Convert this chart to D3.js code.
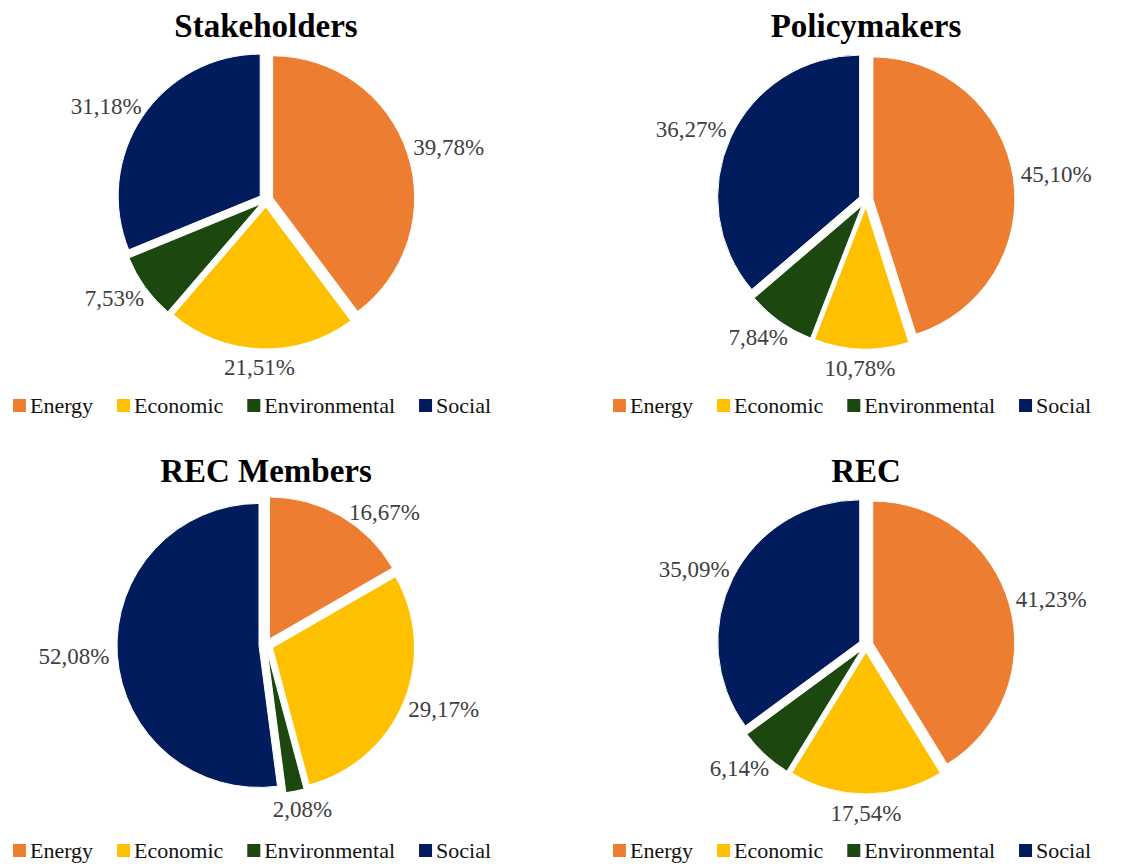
<!DOCTYPE html>
<html lang="en">

<head>
  <meta charset="UTF-8" />
  <title>Pie charts</title>
  <script src="https://d3js.org/d3.v7.min.js"></script>
  <style>
    * {
      margin: 0;
      padding: 0;
    }

    body {
      background: #fff;
      font-family: "Liberation Serif", "Times New Roman", serif;
    }

    .title {
      font-weight: bold;
      font-size: 33px;
      fill: #000;
    }

    .label {
      font-size: 23px;
      fill: #404040;
    }

    .legend text {
      font-size: 22px;
      fill: #111;
    }
  </style>
</head>

<body>
  <script>
    // data
    const categories = ['Energy', 'Economic', 'Environmental', 'Social'];
    const groups = ['Stakeholders', 'Policymakers', 'REC Members', 'REC'];
    const stakeholders = [39.78, 21.51, 7.53, 31.18];
    const policymakers = [45.10, 10.78, 7.84, 36.27];
    const recMembers = [16.67, 29.17, 2.08, 52.08];
    const rec = [41.23, 17.54, 6.14, 35.09];
    const values = [stakeholders, policymakers, recMembers, rec];
    const colors = ['#ED7D31', '#FFC000', '#1C4810', '#001C5C'];

    //constants
    const [w, h] = [1132, 864];
    const [panelW, panelH] = [600, 445];
    const [cx, cy, r, explode] = [266, 200, 142, 7];
    const labelGap = 15;
    const labelTop = 67; // labels must stay below the title area
    const legendCenter = 252;

    const color = d3.scaleOrdinal().domain(categories).range(colors);
    const fmt = d3.formatLocale({ decimal: ',', thousands: '.', grouping: [3], currency: ['', '€'] }).format('.2f');

    const svg = d3.select('body')
      .append('svg')
      .attr('width', w)
      .attr('height', h);

    const pie = d3.pie().sort(null).value(d => d.v);
    const arc = d3.arc().innerRadius(0).outerRadius(r);

    // outside-end label position for angle a
    function labelPos(a, hw, hh) {
      const s = Math.sin(a), c = Math.cos(a);
      return [(r + labelGap) * s + hw * s, -(r + labelGap) * c - hh * c];
    }

    groups.forEach((name, gi) => {
      const px = (gi % 2) * panelW;
      const py = Math.floor(gi / 2) * panelH;
      const g = svg.append('g').attr('transform', `translate(${px},${py})`);

      g.append('text')
        .attr('class', 'title')
        .attr('x', cx)
        .attr('y', 37)
        .attr('text-anchor', 'middle')
        .text(name);

      const rows = categories.map((c, i) => ({ c: c, v: values[gi][i] }));
      const arcs = pie(rows);

      const pieG = g.append('g').attr('transform', `translate(${cx},${cy})`);

      pieG.selectAll('path')
        .data(arcs)
        .join('path')
        .attr('d', arc)
        .attr('fill', d => color(d.data.c))
        .attr('stroke', '#fff')
        .attr('stroke-width', 1)
        .attr('transform', d => {
          const a = (d.startAngle + d.endAngle) / 2;
          return `translate(${explode * Math.sin(a)},${-explode * Math.cos(a)})`;
        });

      //labels outside end
      pieG.selectAll('text')
        .data(arcs)
        .join('text')
        .attr('class', 'label')
        .attr('text-anchor', 'middle')
        .attr('dy', '0.33em')
        .text(d => fmt(d.data.v) + '%')
        .each(function (d) {
          let a = (d.startAngle + d.endAngle) / 2;
          const hw = this.getComputedTextLength() / 2;
          const hh = 11;
          let p = labelPos(a, hw, hh);
          // rotate toward the side until the label clears the top
          const step = a < Math.PI ? 0.01 : -0.01;
          let n = 0;
          while (p[1] + cy < labelTop && n < 200) {
            a += step;
            p = labelPos(a, hw, hh);
            n++;
          }
          d3.select(this).attr('x', p[0]).attr('y', p[1]);
        });

      //legend
      const leg = g.append('g').attr('class', 'legend');
      const items = leg.selectAll('g')
        .data(categories)
        .join('g');
      items.append('rect')
        .attr('width', 13)
        .attr('height', 13)
        .attr('y', 399)
        .attr('fill', d => color(d));
      items.append('text')
        .attr('x', 17)
        .attr('y', 413)
        .text(d => d);

      let xPos = 0;
      items.each(function () {
        const tw = d3.select(this).select('text').node().getComputedTextLength();
        d3.select(this).attr('transform', `translate(${xPos},0)`);
        xPos += 17 + tw + 24;
      });
      const legW = xPos - 24;
      leg.attr('transform', `translate(${legendCenter - legW / 2},0)`);
    });
  </script>
</body>

</html>
